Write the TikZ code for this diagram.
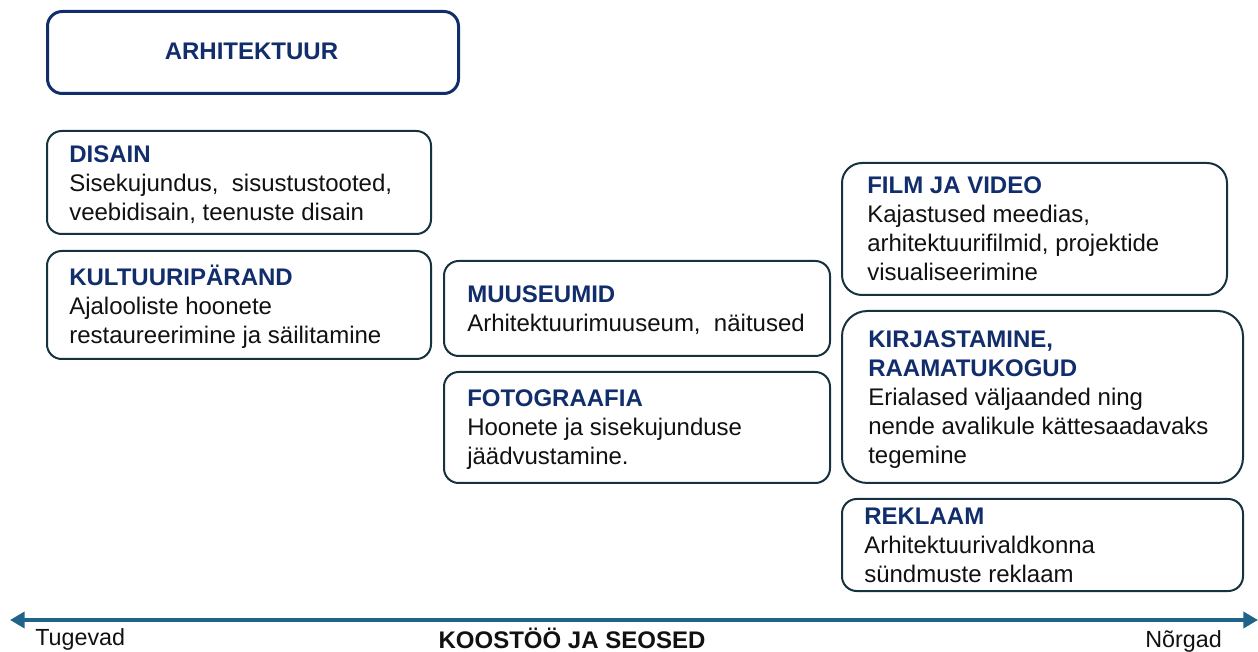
\documentclass[tikz,border=0pt]{standalone}
\usepackage{fontspec}
\setmainfont{Liberation Sans}
\usetikzlibrary{arrows.meta}
\definecolor{navy}{HTML}{112D6C}
\definecolor{boxc}{HTML}{17323F}
\definecolor{bodyc}{HTML}{111111}
\definecolor{arrc}{HTML}{1F6388}
\newcommand\ttl[1]{\strut{\bfseries\color{navy}#1}}
\tikzset{
  box/.style={draw=boxc, line width=1.5pt, rounded corners=11pt, anchor=north west, inner sep=0pt, fill=white},
  txt/.style={anchor=north west, inner sep=0pt, align=left, font=\fontsize{18}{21.75}\selectfont, text=bodyc},
  lbl/.style={anchor=base west, inner sep=0pt, font=\fontsize{17.5}{21}\selectfont, text=bodyc},
  arr/.style={draw=arrc, line width=3pt, {Triangle[length=11pt,width=12pt]}-{Triangle[length=11pt,width=12pt]}},
}
\begin{document}
\begin{tikzpicture}[x=0.75pt,y=-0.75pt]
\useasboundingbox (0,0) rectangle (1258,652);
% boxes
\node[box, draw=navy, line width=2.25pt, minimum width=308.25pt, minimum height=61.5pt] (arh) at (46,10) {};
\node[box, minimum width=288pt, minimum height=77.25pt] (disain) at (46,130) {};
\node[box, minimum width=288pt, minimum height=81pt] (kult) at (46,250) {};
\node[box, minimum width=289.5pt, minimum height=71.25pt] (muus) at (443,260) {};
\node[box, minimum width=289.5pt, minimum height=83.25pt] (foto) at (443,371) {};
\node[box, rounded corners=15pt, minimum width=288.75pt, minimum height=99pt] (film) at (841,162) {};
\node[box, rounded corners=19pt, minimum width=300.75pt, minimum height=129pt] (kirj) at (841,310) {};
\node[box, minimum width=300.75pt, minimum height=69pt] (rekl) at (841,498) {};
% texts
\node[inner sep=0pt, font=\fontsize{18}{21.75}\selectfont\bfseries, text=navy] (arht) at (251.5,51) {ARHITEKTUUR};
\node[txt] (disaint) at (69,141.7) {\ttl{DISAIN}\\Sisekujundus,\ \ sisustustooted,\\veebidisain, teenuste disain};
\node[txt] (kultt) at (69,264.7) {\ttl{KULTUURIPÄRAND}\\Ajalooliste hoonete\\restaureerimine ja säilitamine};
\node[txt] (muust) at (467,281.7) {\ttl{MUUSEUMID}\\Arhitektuurimuuseum,\ \ näitused};
\node[txt] (fotot) at (467,385.7) {\ttl{FOTOGRAAFIA}\\Hoonete ja sisekujunduse\\jäädvustamine.};
\node[txt] (filmt) at (867,172.7) {\ttl{FILM JA VIDEO}\\Kajastused meedias,\\arhitektuurifilmid, projektide\\visualiseerimine};
\node[txt] (kirjt) at (868,326.7) {\ttl{KIRJASTAMINE,}\\{\bfseries\color{navy}RAAMATUKOGUD}\\Erialased väljaanded ning\\nende avalikule kättesaadavaks\\tegemine};
\node[txt] (reklt) at (864,503.7) {\ttl{REKLAAM}\\Arhitektuurivaldkonna\\sündmuste reklaam};
% axis
\coordinate (lt) at (10,620);
\coordinate (rt) at (1258,620);
\draw[arr] (lt) -- (rt);
\node[lbl] (tug) at (35,645) {Tugevad};
\node[lbl] (nor) at (1145,647) {Nõrgad};
\node[anchor=base, inner sep=0pt, font=\fontsize{18}{21.75}\selectfont\bfseries, text=bodyc] (koos) at (572,648) {KOOSTÖÖ JA SEOSED};
\end{tikzpicture}
\end{document}
